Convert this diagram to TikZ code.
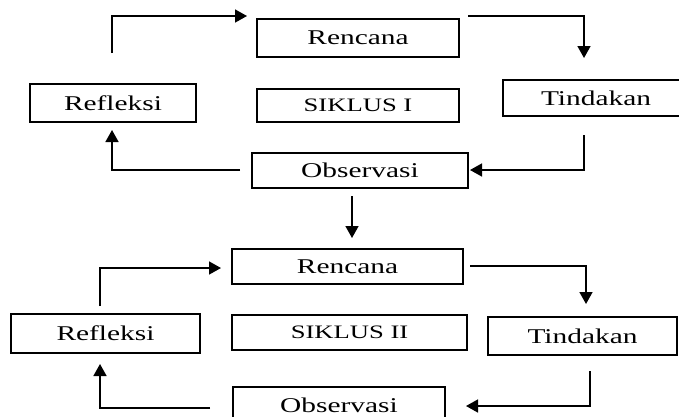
\documentclass[tikz,border=0pt]{standalone}
\usepackage{fontspec}
\setmainfont{Liberation Serif}[FakeStretch=1.4]
\usetikzlibrary{arrows.meta}
\begin{document}
\begin{tikzpicture}[x=1pt,y=-1pt,
  box/.style={draw, line width=1.5pt, inner sep=0pt, font=\fontsize{21}{24}\selectfont},
  sbox/.style={box, font=\fontsize{19}{22}\selectfont},
  conn/.style={line width=1.6pt, -{Triangle[length=12pt,width=13pt]}}]
\useasboundingbox (0,0) rectangle (679,416);
% cycle I
\node[box, minimum width=202pt, minimum height=38pt] (R1) at (358,38) {Rencana};
\node[sbox, minimum width=202pt, minimum height=33pt] (S1) at (358,105.5) {SIKLUS I};
\node[box, minimum width=166pt, minimum height=38pt] (F1) at (113,103) {Refleksi};
\node[box, minimum width=186pt, minimum height=36pt] (T1) at (596,98) {Tindakan};
\node[box, minimum width=216pt, minimum height=35pt] (O1) at (360,170.5) {Observasi};
% cycle II
\node[box, minimum width=231pt, minimum height=35pt] (R2) at (347.5,266.5) {Rencana};
\node[sbox, minimum width=235pt, minimum height=35pt] (S2) at (349.5,332.5) {SIKLUS II};
\node[box, minimum width=189pt, minimum height=39pt] (F2) at (105.5,333.5) {Refleksi};
\node[box, minimum width=189pt, minimum height=38pt] (T2) at (582.5,336) {Tindakan};
\node[box, minimum width=212pt, minimum height=36pt] (O2) at (339,405) {Observasi};
% connector end points
\coordinate (a1s) at (112,53);  \coordinate (a1e) at (247,16);
\coordinate (a2s) at (468,16);  \coordinate (a2e) at (584,58);
\coordinate (a3s) at (584,135); \coordinate (a3e) at (470,170);
\coordinate (a4s) at (240,170); \coordinate (a4e) at (112,130);
\coordinate (a5s) at (352,196); \coordinate (a5e) at (352,238);
\coordinate (b1s) at (100,306); \coordinate (b1e) at (221,268);
\coordinate (b2s) at (470,266); \coordinate (b2e) at (586,304);
\coordinate (b3s) at (590,371); \coordinate (b3e) at (466,406);
\coordinate (b4s) at (210,408); \coordinate (b4e) at (100,364);
% connectors
\draw[conn] (a1s) |- (a1e);
\draw[conn] (a2s) -| (a2e);
\draw[conn] (a3s) |- (a3e);
\draw[conn] (a4s) -| (a4e);
\draw[conn] (a5s) -- (a5e);
\draw[conn] (b1s) |- (b1e);
\draw[conn] (b2s) -| (b2e);
\draw[conn] (b3s) |- (b3e);
\draw[conn] (b4s) -| (b4e);
\end{tikzpicture}
\end{document}
